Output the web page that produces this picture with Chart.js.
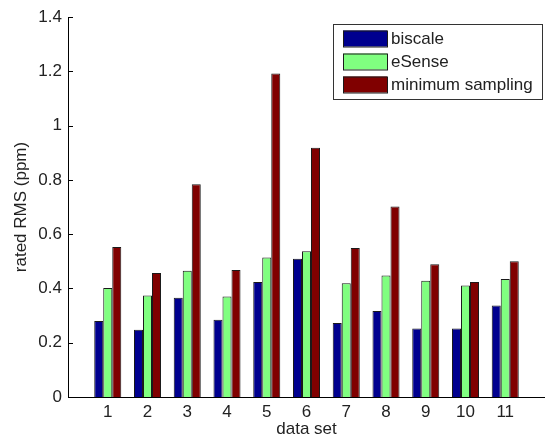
<!DOCTYPE html>
<html>
<head>
<meta charset="utf-8">
<script src="https://cdn.jsdelivr.net/npm/chart.js@4/dist/chart.umd.min.js"></script>
<style>
  html, body { margin: 0; padding: 0; background: #fff; }
  canvas { display: block; }
</style>
</head>
<body>
<canvas id="rmsChart" width="545" height="440"></canvas>
<script>
// data sets 1..11, rated RMS in ppm
const dataSets = ['1', '2', '3', '4', '5', '6', '7', '8', '9', '10', '11'];
const biscale = [0.280, 0.248, 0.366, 0.285, 0.424, 0.509, 0.273, 0.317, 0.252, 0.252, 0.337];
const eSense = [0.402, 0.374, 0.465, 0.370, 0.514, 0.537, 0.419, 0.448, 0.428, 0.411, 0.435];
const minSampling = [0.553, 0.457, 0.784, 0.468, 1.192, 0.918, 0.549, 0.702, 0.489, 0.424, 0.500];
const yTicks = [0, 0.2, 0.4, 0.6, 0.8, 1, 1.2, 1.4];

const FONT = 'Liberation Sans, Arial, sans-serif';
const TEXT = '#222';

// empty slot at both ends so the axis runs 0..12 like matlab's bar()
const labels = [''].concat(dataSets, ['']);
const pad = arr => [null].concat(arr, [null]);

const makeSet = (label, values, color) => ({
    label: label,
    data: pad(values),
    backgroundColor: color,
    borderColor: '#1a1a1a',
    borderWidth: 1,
    borderSkipped: 'bottom',
    categoryPercentage: 0.68,
    barPercentage: 1.0
});

// inward y ticks + boxed legend in the top right corner
const axesExtras = {
    id: 'axesExtras',
    afterDatasetsDraw(chart) {
        const ctx = chart.ctx;
        const area = chart.chartArea;
        const y = chart.scales.y;
        ctx.save();
        ctx.strokeStyle = '#000';
        ctx.lineWidth = 1;
        yTicks.forEach(v => {
            const py = Math.round(y.getPixelForValue(v)) + 0.5;
            ctx.beginPath();
            ctx.moveTo(area.left, py);
            ctx.lineTo(area.left + 5, py);
            ctx.stroke();
        });

        const boxX = area.right - 212, boxY = area.top + 7;
        const boxW = 209, boxH = 75;
        ctx.fillStyle = '#fff';
        ctx.fillRect(boxX, boxY, boxW, boxH);
        ctx.strokeStyle = '#333';
        ctx.strokeRect(boxX + 0.5, boxY + 0.5, boxW, boxH);

        ctx.font = '17px ' + FONT;
        ctx.textBaseline = 'middle';
        chart.data.datasets.forEach((ds, i) => {
            const cy = boxY + 14.5 + i * 23;
            ctx.fillStyle = ds.backgroundColor;
            ctx.fillRect(boxX + 10, cy - 8, 44, 16);
            ctx.strokeStyle = '#1a1a1a';
            ctx.strokeRect(boxX + 10.5, cy - 7.5, 44, 16);
            ctx.fillStyle = TEXT;
            ctx.fillText(ds.label, boxX + 58, cy + 1);
        });
        ctx.restore();
    }
};

new Chart(document.getElementById('rmsChart'), {
    type: 'bar',
    data: {
        labels: labels,
        datasets: [
            makeSet('biscale', biscale, '#00008f'),
            makeSet('eSense', eSense, '#80ff80'),
            makeSet('minimum sampling', minSampling, '#800000')
        ]
    },
    options: {
        responsive: false,
        animation: false,
        devicePixelRatio: 1,
        layout: { padding: { top: 17, right: 0, bottom: 0, left: 0 } },
        plugins: {
            legend: { display: false },
            tooltip: { enabled: false }
        },
        scales: {
            x: {
                offset: false,
                grid: { display: false, drawTicks: false },
                border: { display: true, color: '#000', width: 1 },
                ticks: {
                    autoSkip: false,
                    maxRotation: 0,
                    padding: 5,
                    color: TEXT,
                    font: { family: FONT, size: 17 }
                },
                title: {
                    display: true,
                    text: 'data set',
                    color: TEXT,
                    font: { family: FONT, size: 17 },
                    padding: { top: -2, bottom: 0 }
                },
                afterFit: s => {
                    s.height = 43;
                    s.paddingLeft = 0;
                    s.paddingRight = 0;
                }
            },
            y: {
                min: 0,
                max: 1.4,
                afterBuildTicks: s => { s.ticks = yTicks.map(v => ({ value: v })); },
                grid: { display: false, drawTicks: false },
                border: { display: true, color: '#000', width: 1 },
                ticks: {
                    padding: 6,
                    color: TEXT,
                    font: { family: FONT, size: 17 },
                    callback: v => String(Math.round(v * 10) / 10)
                },
                title: {
                    display: true,
                    text: 'rated RMS (ppm)',
                    color: TEXT,
                    font: { family: FONT, size: 17 },
                    padding: { top: 11, bottom: 0 }
                },
                afterFit: s => { s.width = 68; }
            }
        }
    },
    plugins: [axesExtras]
});
</script>
</body>
</html>
